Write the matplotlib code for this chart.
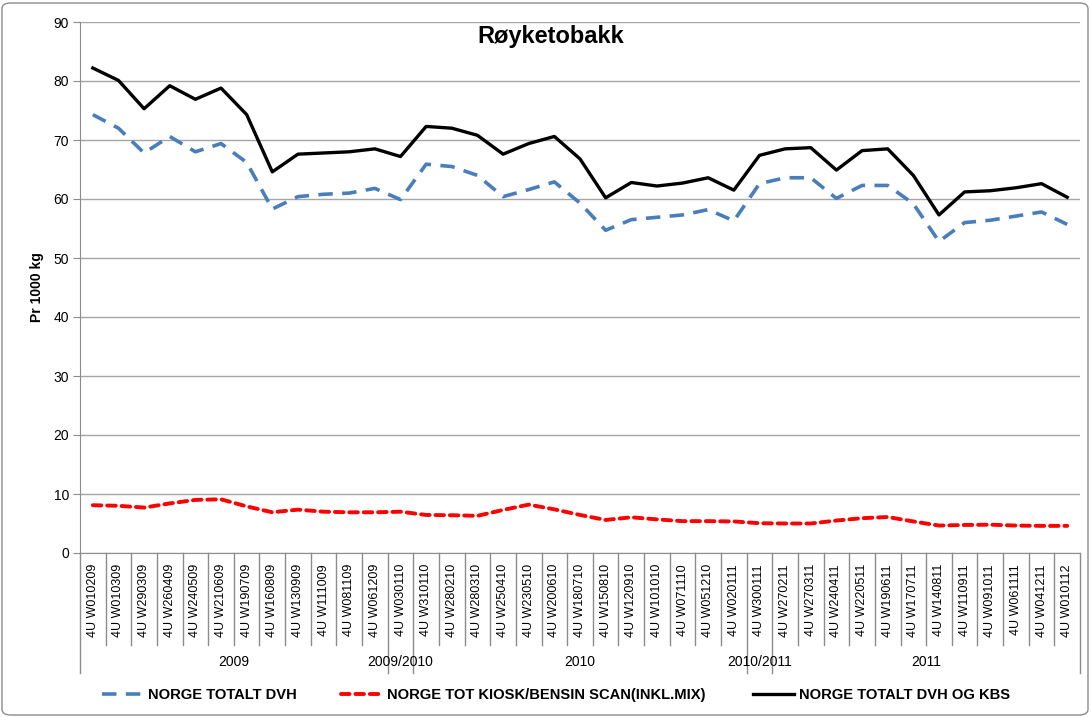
import matplotlib
matplotlib.use("Agg")
import matplotlib.pyplot as plt
import matplotlib.transforms as mtransforms
from matplotlib.patches import FancyBboxPatch

plt.rcParams['font.family'] = ['Liberation Sans', 'DejaVu Sans']

# category labels (weekly periods)
weeks = ["010209", "010309", "290309", "260409", "240509", "210609", "190709",
         "160809", "130909", "111009", "081109", "061209", "030110", "310110",
         "280210", "280310", "250410", "230510", "200610", "180710", "150810",
         "120910", "101010", "071110", "051210", "020111", "300111", "270211",
         "270311", "240411", "220511", "190611", "170711", "140811", "110911",
         "091011", "061111", "041211", "010112"]
categories = ["4U W" + w for w in weeks]

# year groups: (label, first index, last index)
groups = [("2009", 0, 11), ("2009/2010", 12, 12), ("2010", 13, 25),
          ("2010/2011", 26, 26), ("2011", 27, 38)]

dvh = [74.3, 72.0, 67.8, 70.6, 68.0, 69.4, 66.2, 58.3, 60.4, 60.8, 61.0, 61.8,
       59.9, 65.9, 65.5, 64.0, 60.4, 61.6, 62.9, 59.3, 54.7, 56.5, 56.9, 57.3,
       58.2, 56.3, 62.6, 63.6, 63.6, 60.1, 62.3, 62.3, 59.2, 52.8, 56.0, 56.4,
       57.1, 57.8, 55.7]
kiosk = [8.1, 8.0, 7.7, 8.4, 9.0, 9.1, 7.9, 6.9, 7.35, 7.0, 6.9, 6.9, 7.0,
         6.45, 6.4, 6.3, 7.3, 8.2, 7.4, 6.45, 5.6, 6.05, 5.7, 5.4, 5.4, 5.35,
         5.05, 5.0, 5.0, 5.5, 5.9, 6.1, 5.35, 4.65, 4.75, 4.8, 4.65, 4.6, 4.6]
dvh_kbs = [82.2, 80.1, 75.3, 79.2, 76.9, 78.8, 74.3, 64.6, 67.6, 67.8, 68.0,
           68.5, 67.2, 72.3, 72.0, 70.8, 67.6, 69.4, 70.6, 66.8, 60.2, 62.8,
           62.2, 62.7, 63.6, 61.5, 67.4, 68.5, 68.7, 64.9, 68.2, 68.5, 64.0,
           57.3, 61.2, 61.4, 61.9, 62.6, 60.3]

W, H = 1091, 717
fig = plt.figure(figsize=(W / 100, H / 100), dpi=100)
ax = fig.add_axes([80 / W, 1 - 553 / H, 1000 / W, 531 / H])

x = list(range(len(categories)))
grid_col = '#a6a6a6'

l1, = ax.plot(x, dvh, color='#4a7ebb', lw=2.6, dashes=(4, 2.6), label='NORGE TOTALT DVH')
l2, = ax.plot(x, kiosk, color='#ff0000', lw=2.8, dashes=(2.2, 1.5), dash_capstyle='round',
              label='NORGE TOT KIOSK/BENSIN SCAN(INKL.MIX)')
l3, = ax.plot(x, dvh_kbs, color='black', lw=2.4, label='NORGE TOTALT DVH OG KBS')

ax.set_xlim(-0.5, len(categories) - 0.5)
ax.set_ylim(0, 90)
ax.set_yticks(range(0, 91, 10))
ax.yaxis.grid(True, color=grid_col, lw=1)
ax.set_axisbelow(True)
for s in ['top', 'right']:
    ax.spines[s].set_visible(False)
for s in ['left', 'bottom']:
    ax.spines[s].set_color('#8c8c8c')
ax.tick_params(axis='y', length=5, color='#8c8c8c', labelsize=10, pad=3)
ax.set_xticks(x)
ax.set_xticklabels(categories, rotation=90, fontsize=9, va='top')
ax.tick_params(axis='x', length=0, pad=8)
ax.set_ylabel('Pr 1000 kg', fontsize=10, fontweight='bold', labelpad=7)

# category separators and year group boxes below the axis
trans = mtransforms.blended_transform_factory(ax.transData, ax.transAxes)
short_y = -92 / 531
long_y = -120 / 531
group_edges = {-0.5, len(categories) - 0.5}
for name, a, b in groups:
    group_edges.add(a - 0.5)
    group_edges.add(b + 0.5)
for i in range(len(categories) + 1):
    xb = i - 0.5
    yb = long_y if xb in group_edges else short_y
    ax.plot([xb, xb], [0, yb], color='#8c8c8c', lw=1, transform=trans, clip_on=False)
for name, a, b in groups:
    ax.text((a + b) / 2, -109 / 531, name, transform=trans, ha='center', va='center',
            fontsize=10)

fig.text(551 / W, 1 - 36 / H, 'Røyketobakk', ha='center', va='center', fontsize=17,
         fontweight='bold')

# one legend per entry so the gaps match the original
leg_font = {'weight': 'bold', 'size': 10.6}
for handle, xpos in [(l1, 102), (l2, 341), (l3, 753)]:
    fig.legend(handles=[handle], loc='center left',
               bbox_to_anchor=(xpos / W, 1 - 695 / H), frameon=False,
               borderpad=0, borderaxespad=0, handlelength=2.8,
               handletextpad=0.3, prop=leg_font)

fig.patches.append(FancyBboxPatch((2 / W, 2 / H), 1 - 5 / W, 1 - 5 / H,
                                  boxstyle='round,pad=0,rounding_size=0.008',
                                  transform=fig.transFigure, fill=False,
                                  edgecolor='#8c8c8c', lw=1))

fig.savefig('out.png', dpi=100)
